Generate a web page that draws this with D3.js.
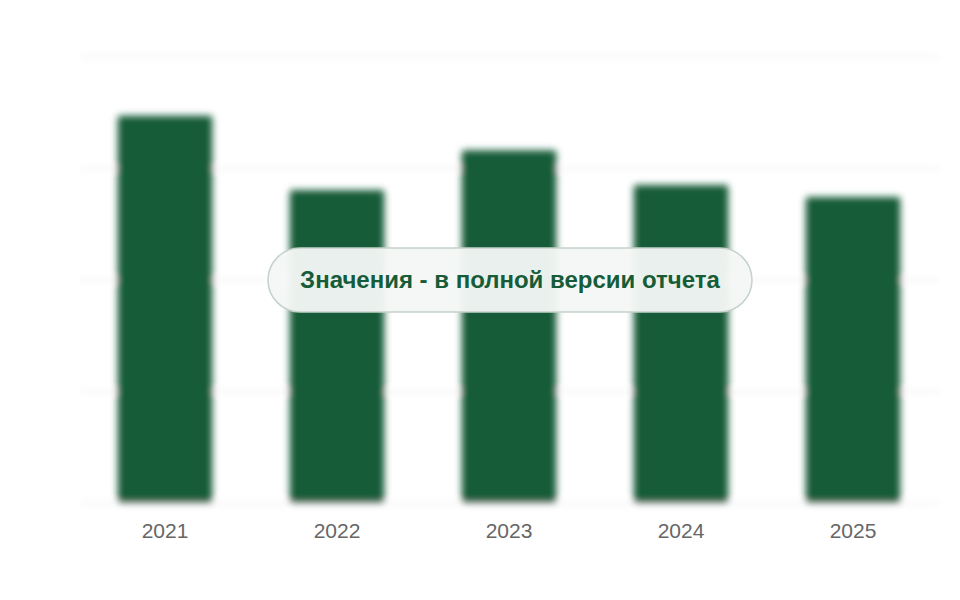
<!DOCTYPE html>
<html>
<head>
<meta charset="utf-8">
<script src="https://cdn.jsdelivr.net/npm/d3@7"></script>
<style>
  html, body { margin: 0; padding: 0; background: #fff; }
  #chart { width: 960px; height: 600px; position: relative; }
</style>
</head>
<body>
<div id="chart"></div>
<script>
// data
const years = ["2021", "2022", "2023", "2024", "2025"];
const values = [86.8, 70.2, 79.1, 71.3, 68.6];
const yTicks = [0, 25, 50, 75, 100];
const note = "Значения - в полной версии отчета";

const width = 960;
const height = 600;
const margin = { top: 57, right: 21, bottom: 97, left: 79 };

const svg = d3.select("#chart").append("svg")
  .attr("width", width)
  .attr("height", height);

const defs = svg.append("defs");
defs.append("filter").attr("id", "blur")
  .attr("x", "-20%").attr("y", "-20%").attr("width", "140%").attr("height", "140%")
  .append("feGaussianBlur").attr("stdDeviation", 3.5);

// scales
const xScale = d3.scaleBand()
  .domain(years)
  .range([margin.left, width - margin.right])
  .paddingInner(0.45)
  .paddingOuter(0.225);

const yScale = d3.scaleLinear()
  .domain([0, 100])
  .range([height - margin.bottom, margin.top]);

// blurred part: grid + bars
const blurred = svg.append("g").attr("filter", "url(#blur)");

blurred.selectAll(".grid")
  .data(yTicks)
  .enter()
  .append("line")
  .attr("x1", margin.left)
  .attr("x2", width - margin.right)
  .attr("y1", d => yScale(d))
  .attr("y2", d => yScale(d))
  .attr("stroke", "#f0f0f0")
  .attr("stroke-width", 2);

blurred.selectAll(".bar")
  .data(values)
  .enter()
  .append("rect")
  .attr("x", (d, i) => xScale(years[i]))
  .attr("y", d => yScale(d))
  .attr("width", xScale.bandwidth())
  .attr("height", d => yScale(0) - yScale(d))
  .attr("rx", 3)
  .attr("fill", "#165c38");

// x axis labels
const xAxis = d3.axisBottom(xScale).tickSize(0).tickPadding(20);
const gx = svg.append("g")
  .attr("transform", `translate(0,${height - margin.bottom})`)
  .call(xAxis);
gx.select(".domain").remove();
gx.selectAll("text")
  .attr("font-family", "Liberation Sans, Arial, sans-serif")
  .attr("font-size", 21)
  .attr("fill", "#666");

// overlay pill
const pill = svg.append("g").attr("transform", "translate(510,280)");
pill.append("rect")
  .attr("x", -242).attr("y", -32)
  .attr("width", 484).attr("height", 64)
  .attr("rx", 32)
  .attr("fill", "#f4f7f5")
  .attr("fill-opacity", 0.96)
  .attr("stroke", "#c5d2c9")
  .attr("stroke-width", 1.5);
pill.append("text")
  .attr("text-anchor", "middle")
  .attr("dy", "0.35em")
  .attr("font-family", "Liberation Sans, Arial, sans-serif")
  .attr("font-weight", "bold")
  .attr("font-size", 24)
  .attr("fill", "#165c38")
  .text(note);
</script>
</body>
</html>
